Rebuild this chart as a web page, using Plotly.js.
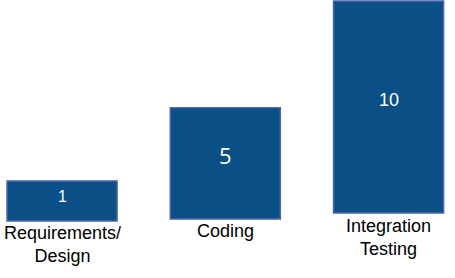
<!DOCTYPE html>
<html>
<head>
<meta charset="utf-8">
<script src="https://cdn.plot.ly/plotly-3.0.1.min.js"></script>
<style>html,body{margin:0;padding:0;background:#fff;}#chart{width:455px;height:278px;}</style>
</head>
<body>
<div id="chart"></div>
<script>
// Relative cost of fixing a defect by phase
const categories = ["Requirements/<br>Design", "Coding", "Integration<br>Testing"];
const valueLabels = ["1", "5", "10"];
// bar heights as drawn (relative units)
const barHeights = [1.0, 2.78, 5.3];
const barBases = [0.0, 0.05, 0.2];

const xs = categories.map((c, i) => i);

const trace = {
  type: "bar",
  x: xs,
  y: barHeights,
  base: barBases,
  width: 0.674,
  marker: { color: "#0a4f85", line: { color: "#4a66ac", width: 1.5 } },
  hoverinfo: "skip"
};

const numFonts = [
  { family: "Liberation Sans, Arial, sans-serif", size: 16, color: "#ffffff" },
  { family: "Open Sans, sans-serif", size: 22, color: "#ffffff" },
  { family: "Liberation Sans, Arial, sans-serif", size: 18, color: "#ffffff" }
];
const numShift = [4.5, 8.5, 7.5];
const catShift = [0, 0, -1];

const annotations = [];
xs.forEach((x, i) => {
  annotations.push({
    x: x, y: barBases[i] + barHeights[i] / 2, xref: "x", yref: "y",
    text: valueLabels[i], showarrow: false, font: numFonts[i],
    xanchor: "center", yanchor: "middle", yshift: numShift[i]
  });
  annotations.push({
    x: x, y: barBases[i], xref: "x", yref: "y",
    text: categories[i], showarrow: false,
    font: { family: "Liberation Sans, Arial, sans-serif", size: 18, color: "#000000" },
    xanchor: "center", yanchor: "top", yshift: catShift[i]
  });
});

const layout = {
  width: 455, height: 278,
  margin: { l: 0, r: 0, t: 0, b: 0, pad: 0 },
  paper_bgcolor: "#ffffff", plot_bgcolor: "#ffffff",
  showlegend: false,
  xaxis: { range: [-0.38, 2.407], visible: false, fixedrange: true },
  yaxis: { range: [-1.425, 5.525], visible: false, fixedrange: true },
  annotations: annotations
};

Plotly.newPlot("chart", [trace], layout, { staticPlot: true, displayModeBar: false });
</script>
</body>
</html>
